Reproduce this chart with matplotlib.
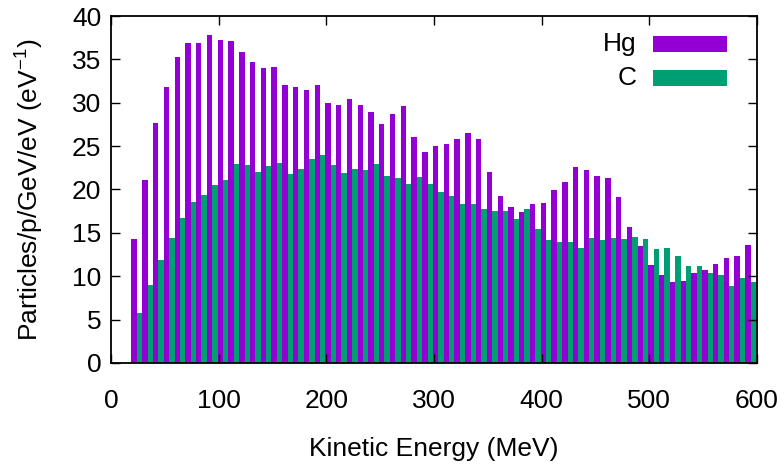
import numpy as np
import matplotlib
matplotlib.use("Agg")
import matplotlib.pyplot as plt
from matplotlib.patches import Rectangle

plt.rcParams['font.family'] = ['Liberation Sans', 'DejaVu Sans']
plt.rcParams['mathtext.fontset'] = 'custom'
plt.rcParams['mathtext.rm'] = 'Liberation Sans'

# bin start energies (MeV)
energy = np.arange(20, 600, 10)

hg = [14.3, 21.1, 27.7, 31.8, 35.3, 36.9, 36.9, 37.8, 37.2, 37.1,
      35.9, 34.7, 34.0, 34.1, 32.1, 31.8, 31.5, 32.1, 30.0, 29.7,
      30.4, 29.7, 28.9, 27.5, 28.7, 29.6, 26.0, 24.3, 25.0, 25.2,
      25.8, 26.5, 25.8, 22.0, 19.3, 17.95, 17.4, 18.3, 18.4, 19.9,
      20.9, 22.6, 22.3, 21.6, 21.3, 19.1, 15.65, 13.5, 11.3, 10.1,
      9.3, 9.4, 10.4, 10.7, 11.4, 12.1, 12.3, 13.6]

c = [5.8, 9.0, 11.9, 14.4, 16.7, 18.6, 19.4, 20.5, 21.1, 22.9,
     22.8, 22.0, 22.7, 23.1, 21.8, 22.4, 23.5, 24.0, 22.8, 21.9,
     22.4, 22.3, 22.9, 21.5, 21.3, 20.6, 21.4, 20.6, 19.7, 19.2,
     18.3, 18.3, 17.7, 17.5, 17.5, 16.6, 17.7, 15.5, 14.2, 14.0,
     13.9, 13.3, 14.4, 14.2, 14.4, 14.3, 14.5, 14.3, 13.1, 13.3,
     12.3, 11.2, 11.2, 10.4, 10.2, 8.9, 9.8, 9.3]

labels = ['Hg', 'C']
colors = ['#9400D3', '#009E73']

fs = 19
fig = plt.figure(figsize=(7.84, 4.68), dpi=100)
ax = fig.add_axes([0.1416, 0.2244, 0.824, 0.7414])

w = 5.0
ax.bar(energy + 1.5, hg, width=w, color=colors[0], linewidth=0)
ax.bar(energy + 6.5, c, width=w, color=colors[1], linewidth=0)

ax.set_xlim(0, 600)
ax.set_ylim(0, 40)
ax.set_xticks(range(0, 601, 100))
ax.set_yticks(range(0, 41, 5))
ax.tick_params(direction='in', length=6.5, width=1, labelsize=fs,
               top=True, right=True, pad=7)
ax.tick_params(axis='x', pad=19)
for s in ax.spines.values():
    s.set_linewidth(1.3)

ax.set_xlabel('Kinetic Energy (MeV)', fontsize=fs)
ax.set_ylabel(r'Particles/p/GeV/eV (eV$^{\mathregular{-1}}$)', fontsize=fs)
ax.xaxis.set_label_coords(0.5, -0.248)
ax.xaxis.label.set_va('center')
ax.yaxis.set_label_coords(-0.128, 0.5)
ax.yaxis.label.set_va('center')

# legend drawn as key boxes on the right, labels right aligned
key_y = [0.8964, 0.7984]
for i, y0 in enumerate(key_y):
    ax.add_patch(Rectangle((0.839, y0), 0.1146, 0.047, transform=ax.transAxes,
                           color=colors[i], linewidth=0, clip_on=False))
    ax.text(0.814, y0 + 0.0235, labels[i], transform=ax.transAxes,
            ha='right', va='center', fontsize=fs)

fig.savefig('out.png', dpi=100)
